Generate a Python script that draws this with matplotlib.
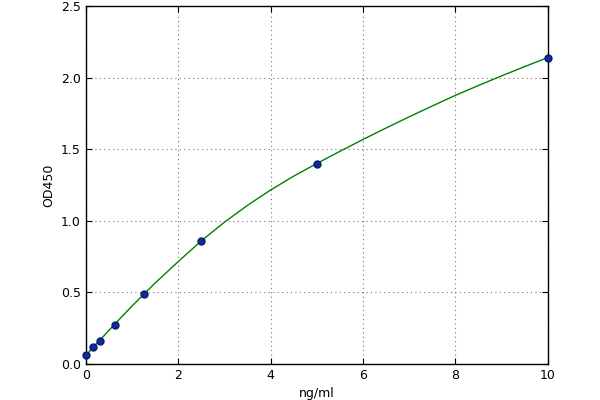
import matplotlib
matplotlib.use("Agg")
import matplotlib.pyplot as plt

# standard points
conc = [0, 0.156, 0.3125, 0.625, 1.25, 2.5, 5, 10]
od = [0.06, 0.12, 0.16, 0.27, 0.49, 0.86, 1.40, 2.14]

# fitted curve
curve_x = [0, 0.5, 1, 1.5, 2, 2.5, 3, 3.5, 4, 4.5, 5, 5.5, 6, 6.5, 7, 7.5, 8, 8.5, 9, 9.5, 10]
curve_y = [0.06, 0.235, 0.405, 0.565, 0.715, 0.86, 0.99, 1.108, 1.215, 1.312, 1.40,
           1.485, 1.568, 1.648, 1.726, 1.802, 1.876, 1.945, 2.012, 2.077, 2.14]

plt.rcParams['font.size'] = 9

fig = plt.figure(figsize=(6, 4), dpi=100, facecolor='white')
ax = fig.add_axes([0.143, 0.09, 0.77, 0.895])

ax.plot(curve_x, curve_y, color='#008000', lw=1)
ax.plot(conc, od, 'o', color='#102a9a', mec='#0a1a70', ms=5, clip_on=False, zorder=3)

ax.set_xlim(0, 10)
ax.set_ylim(0, 2.5)
ax.set_xticks([0, 2, 4, 6, 8, 10])
ax.set_yticks([0.0, 0.5, 1.0, 1.5, 2.0, 2.5])
ax.set_yticklabels(['0.0', '0.5', '1.0', '1.5', '2.0', '2.5'])
ax.grid(True, color='#777777', linestyle=(0, (1, 3)), lw=0.8)
ax.tick_params(direction='in', top=True, right=True, length=4)
for s in ax.spines.values():
    s.set_linewidth(1)

ax.set_xlabel('ng/ml')
ax.set_ylabel('OD450')

plt.savefig('out.png', dpi=100, facecolor='white')
